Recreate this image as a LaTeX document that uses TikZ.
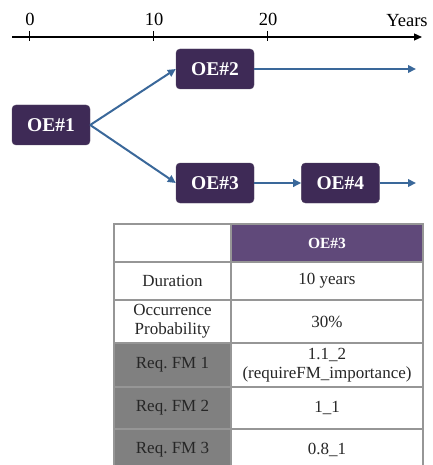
\documentclass[tikz,border=0pt]{standalone}
\usepackage{fontspec}
\setmainfont{Liberation Serif}
\usetikzlibrary{arrows.meta,positioning}
\definecolor{oebox}{RGB}{62,42,86}
\definecolor{oehead}{RGB}{96,73,122}
\definecolor{flowblue}{RGB}{58,104,154}
\definecolor{reqgray}{RGB}{128,128,128}
\definecolor{gridgray}{RGB}{150,150,150}

\begin{document}
\begin{tikzpicture}[
  x=1pt,y=-1pt,
  oe/.style={fill=oebox,draw=oebox!70!gray,rounded corners=4pt,text=white,
             font=\fontsize{19.5}{21}\selectfont\bfseries,
             minimum width=78pt,minimum height=40pt,inner sep=0pt},
  flow/.style={-{Triangle[length=8pt,width=7.5pt]},flowblue,line width=2pt},
  axlab/.style={anchor=base,font=\fontsize{18.5}{20}\selectfont},
  cell/.style={align=center,font=\fontsize{17}{19}\selectfont,text=black!85},
]
\useasboundingbox (0,0) rectangle (432,465);
% Timeline
\coordinate (ax0) at (12,37);
\coordinate (ax1) at (422,37);
\draw[line width=1.2pt,-{Triangle[length=8pt,width=7pt]}] (ax0) -- (ax1);
\foreach \x/\lab in {29/0,153/10,267/20}{
  \draw[line width=1pt] (\x,31) -- (\x,41);
  \node[axlab] (t\lab) at (\x+1,26) {\lab};
}
\node[axlab] (years) at (407,27) {Years};
% Operating events
\node[oe] (oe1) at (51,125) {OE\#1};
\node[oe] (oe2) at (215,69) {OE\#2};
\node[oe] (oe3) at (215,183) {OE\#3};
\node[oe,right=47pt of oe3] (oe4) {OE\#4};
\coordinate (end2) at (416,69);
\coordinate (end4) at (416,183);
% flow arrows
\draw[flow] (oe1.east) -- (oe2.west);
\draw[flow] (oe1.east) -- (oe3.west);
\draw[flow] (oe2) -- (end2);
\draw[flow] (oe3) -- (oe4);
\draw[flow] (oe4) -- (end4);
% Table of OE#3
\fill[oehead] (231,224) rectangle (423,262);
\fill[reqgray] (114,343) rectangle (231,471);
\draw[gridgray,line width=1.2pt] (114,224) rectangle (423,471);
\foreach \y in {262,300,343,387,429}
  \draw[gridgray,line width=1.2pt] (114,\y) -- (423,\y);
\draw[gridgray,line width=1.2pt] (231,224) -- (231,471);
\node[cell,text=white,font=\fontsize{15.5}{17}\selectfont\bfseries] (hd) at (327,243) {OE\#3};
\node[cell] (dur) at (172.5,281) {Duration};
\node[cell] (durv) at (327,281) {10 years};
\node[cell,font=\fontsize{17}{19}\selectfont] (occ) at (172.5,321.5) {Occurrence\\Probability};
\node[cell] (occv) at (327,321.5) {30\%};
\node[cell] (fm1) at (172.5,365) {Req.\ FM 1};
\node[cell,font=\fontsize{17}{19}\selectfont] (fm1v) at (327,365) {1.1\_2\\(requireFM\_importance)};
\node[cell] (fm2) at (172.5,408) {Req.\ FM 2};
\node[cell] (fm2v) at (327,408) {1\_1};
\node[cell] (fm3) at (172.5,450) {Req.\ FM 3};
\node[cell] (fm3v) at (327,450) {0.8\_1};
\end{tikzpicture}
\end{document}
